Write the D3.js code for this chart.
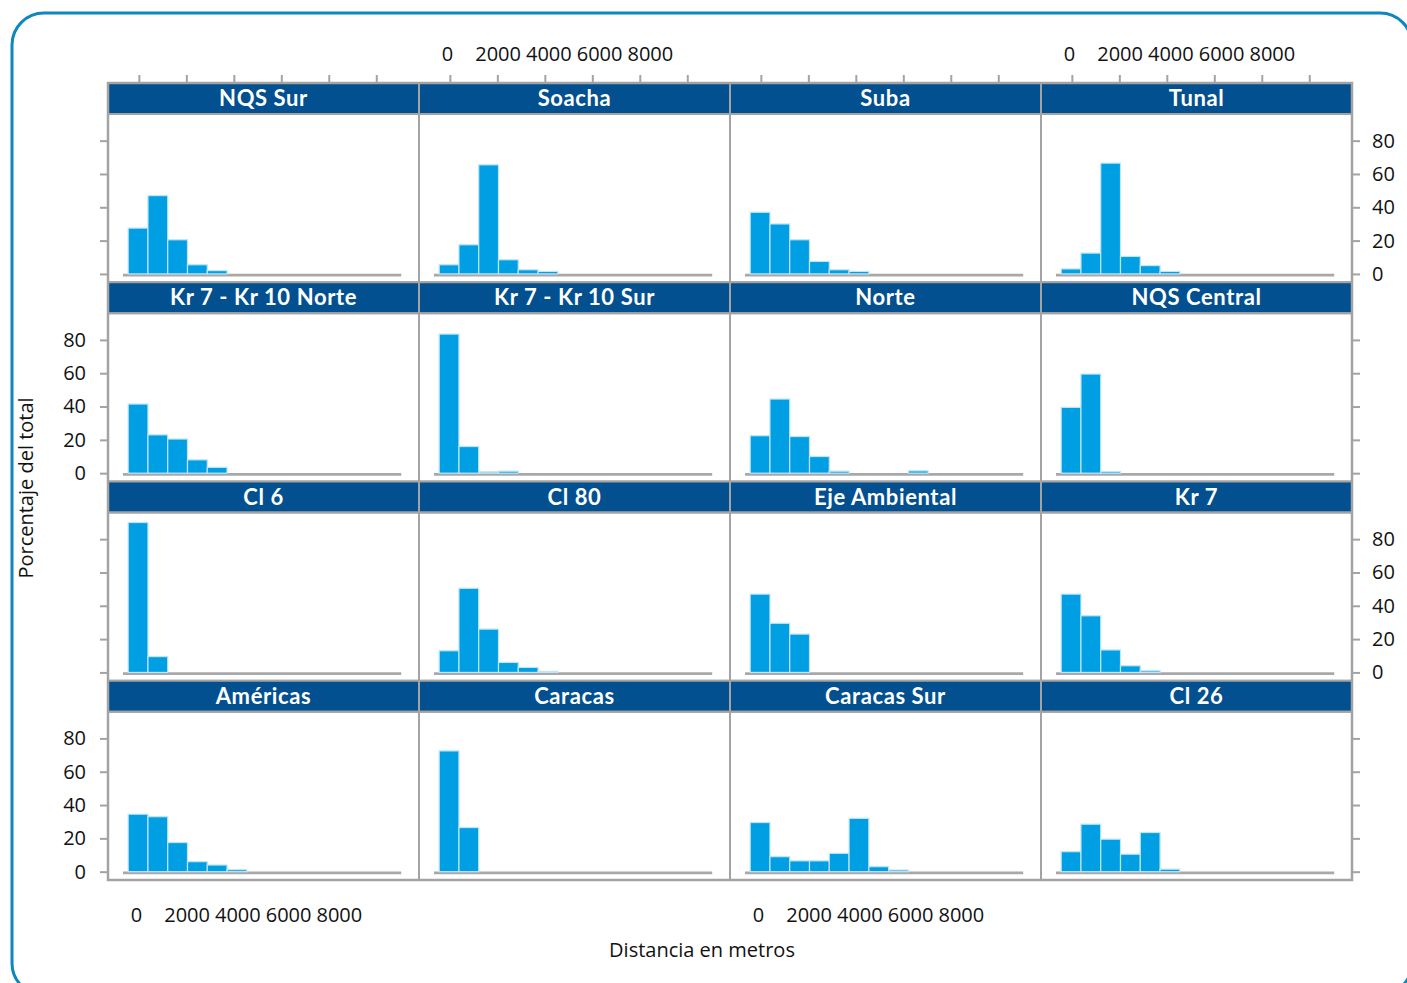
<!DOCTYPE html>
<html>
<head>
<meta charset="utf-8">
<script src="https://cdn.jsdelivr.net/npm/d3@7"></script>
<style>
  html, body { margin: 0; padding: 0; background: #ffffff; }
  svg { display: block; }
</style>
</head>
<body>
<svg id="chart" width="1407" height="983"></svg>
<script>
// Panel titles, in lattice order (left to right, top to bottom)
const categories = [
  "NQS Sur", "Soacha", "Suba", "Tunal",
  "Kr 7 - Kr 10 Norte", "Kr 7 - Kr 10 Sur", "Norte", "NQS Central",
  "Cl 6", "Cl 80", "Eje Ambiental", "Kr 7",
  "Américas", "Caracas", "Caracas Sur", "Cl 26"
];

// Percentage of trips in each distance bin, per corridor
const nqsSur        = [27.5, 47, 20.5, 5.5, 2];
const soacha        = [5.5, 17.5, 65.5, 8.5, 2.5, 1.5];
const suba          = [37, 30, 20.5, 7.5, 2.5, 1.5];
const tunal         = [3, 12.5, 66.5, 10.5, 5, 1.5];
const kr7Kr10Norte  = [41.5, 23, 20.5, 8, 3.5];
const kr7Kr10Sur    = [83.5, 16, 0.8, 1.2];
const norte         = [22.5, 44.5, 22, 10, 1.2, 0, 0, 0, 1.4];
const nqsCentral    = [39.5, 59.5, 1];
const cl6           = [90, 9.5];
const cl80          = [13, 50.5, 26, 6, 3, 0.6];
const ejeAmbiental  = [47, 29.5, 23];
const kr7           = [47, 34, 13.5, 4, 1];
const americas      = [34.5, 33, 17.5, 6, 4, 1.2];
const caracas       = [72.5, 26.5];
const caracasSur    = [29.5, 9, 6.5, 6.5, 11, 32, 3, 1];
const cl26          = [12, 28.5, 19.5, 10.5, 23.5, 1.5];

const series = [
  nqsSur, soacha, suba, tunal,
  kr7Kr10Norte, kr7Kr10Sur, norte, nqsCentral,
  cl6, cl80, ejeAmbiental, kr7,
  americas, caracas, caracasSur, cl26
];

// Histogram bins (metres)
const binStart = -450;
const binWidth = 833;
const histEnd = 11050;
const histStartLine = -670;

// Axis ticks
const xTicks = [0, 2000, 4000, 6000, 8000, 10000];
const xLabelValues = [0, 2000, 4000, 6000, 8000];
const xTickLabels = ["0", "2000", "4000", "6000", "8000"];
const yTicks = [0, 20, 40, 60, 80];
const yTickLabels = ["0", "20", "40", "60", "80"];

const xTitle = "Distancia en metros";
const yTitle = "Porcentaje del total";

// Layout
const nCols = 4, nRows = 4;
const gridLeft = 108, gridRight = 1352, gridTop = 83, gridBottom = 880;
const colW = (gridRight - gridLeft) / nCols;
const rowH = (gridBottom - gridTop) / nRows;
const stripH = 31;

const stripFill = "#02508f";
const barFill = "#009fe3";
const barStroke = "#bfe5f7";
const frameGray = "#a3a3a3";
const tickFont = "'Open Sans', 'Noto Sans', sans-serif";

const svg = d3.select("#chart");

// Rounded outer frame
svg.append("rect")
  .attr("x", 12).attr("y", 13)
  .attr("width", 1400).attr("height", 982)
  .attr("rx", 32).attr("ry", 32)
  .attr("fill", "none")
  .attr("stroke", "#0e86be")
  .attr("stroke-width", 3);

const gPanels = svg.append("g");

categories.forEach((name, k) => {
  const col = k % nCols, row = Math.floor(k / nCols);
  const px0 = gridLeft + col * colW, px1 = px0 + colW;
  const sy0 = gridTop + row * rowH;
  const py0 = sy0 + stripH, py1 = sy0 + rowH;

  const x = d3.scaleLinear().domain([-1300, 11800]).range([px0, px1]);
  const y = d3.scaleLinear().domain([-5, 96]).range([py1, py0]);
  // tick labels sit on a slightly wider spacing than the tick marks
  const xLab = d3.scaleLinear().domain([0, 8000]).range([x(0) - 3, x(0) + 200]);

  const g = gPanels.append("g");

  // panel background
  g.append("rect")
    .attr("x", px0).attr("y", py0)
    .attr("width", colW).attr("height", py1 - py0)
    .attr("fill", "#ffffff");

  // baseline made of the empty bins
  g.append("line")
    .attr("x1", x(histStartLine)).attr("x2", x(histEnd))
    .attr("y1", y(0) + 1.2).attr("y2", y(0) + 1.2)
    .attr("stroke", "#a8a8a8")
    .attr("stroke-width", 2.6);

  // bars
  g.selectAll("rect.bar")
    .data(series[k].map((v, i) => ({ v, i })).filter(d => d.v > 0))
    .join("rect")
    .attr("class", "bar")
    .attr("x", d => x(binStart + d.i * binWidth))
    .attr("width", d => x(binStart + (d.i + 1) * binWidth) - x(binStart + d.i * binWidth))
    .attr("y", d => y(d.v))
    .attr("height", d => y(0) - y(d.v))
    .attr("fill", barFill)
    .attr("stroke", barStroke)
    .attr("stroke-width", 1.2);

  // strip
  g.append("rect")
    .attr("x", px0).attr("y", sy0)
    .attr("width", colW).attr("height", stripH)
    .attr("fill", stripFill)
    .attr("stroke", frameGray)
    .attr("stroke-width", 2);

  g.append("text")
    .attr("x", (px0 + px1) / 2)
    .attr("y", sy0 + stripH / 2 + 7.5)
    .attr("text-anchor", "middle")
    .attr("fill", "#ffffff")
    .attr("font-family", "Lato, 'Noto Sans', sans-serif")
    .attr("font-weight", "bold")
    .attr("font-size", 22)
    .attr("letter-spacing", 0.6)
    .text(name);

  // panel border
  g.append("rect")
    .attr("x", px0).attr("y", py0)
    .attr("width", colW).attr("height", py1 - py0)
    .attr("fill", "none")
    .attr("stroke", frameGray)
    .attr("stroke-width", 2);

  // top axis (first row): ticks on every column, labels on even columns
  if (row === 0) {
    const ax = d3.axisTop(x).tickValues(xTicks).tickSize(8).tickFormat("");
    styleAxis(svg.append("g").attr("transform", `translate(0,${gridTop})`).call(ax));
    if (col % 2 === 1) {
      const lab = d3.axisTop(xLab).tickValues(xLabelValues).tickSize(0).tickPadding(22)
        .tickFormat((d, i) => xTickLabels[i]);
      styleAxis(svg.append("g").attr("transform", `translate(0,${gridTop})`).call(lab));
    }
  }
  // bottom axis labels (last row, odd columns)
  if (row === nRows - 1 && col % 2 === 0) {
    const lab = d3.axisBottom(xLab).tickValues(xLabelValues).tickSize(0).tickPadding(28)
      .tickFormat((d, i) => xTickLabels[i]);
    styleAxis(svg.append("g").attr("transform", `translate(0,${gridBottom})`).call(lab));
  }
  // left axis (first column): labels on even rows
  if (col === 0) {
    const ax = d3.axisLeft(y).tickValues(yTicks).tickSize(8).tickPadding(14)
      .tickFormat((d, i) => (row % 2 === 1 ? yTickLabels[i] : ""));
    styleAxis(svg.append("g").attr("transform", `translate(${gridLeft},0)`).call(ax));
  }
  // right axis (last column): labels on odd rows
  if (col === nCols - 1) {
    const ax = d3.axisRight(y).tickValues(yTicks).tickSize(8).tickPadding(12)
      .tickFormat((d, i) => (row % 2 === 0 ? yTickLabels[i] : ""));
    styleAxis(svg.append("g").attr("transform", `translate(${gridRight},0)`).call(ax));
  }
});

function styleAxis(ga) {
  ga.select(".domain").remove();
  ga.selectAll(".tick line").attr("stroke", frameGray).attr("stroke-width", 2);
  ga.selectAll(".tick text")
    .attr("fill", "#111111")
    .attr("font-family", tickFont)
    .attr("font-size", 20);
}

// outer grid frame
svg.append("rect")
  .attr("x", gridLeft).attr("y", gridTop)
  .attr("width", gridRight - gridLeft).attr("height", gridBottom - gridTop)
  .attr("fill", "none")
  .attr("stroke", frameGray)
  .attr("stroke-width", 2.5);

// axis titles
svg.append("text")
  .attr("x", 702).attr("y", 957)
  .attr("text-anchor", "middle")
  .attr("font-family", tickFont)
  .attr("font-size", 20)
  .attr("fill", "#111111")
  .text(xTitle);

svg.append("text")
  .attr("transform", "translate(33,488) rotate(-90)")
  .attr("text-anchor", "middle")
  .attr("font-family", tickFont)
  .attr("font-size", 20)
  .attr("fill", "#111111")
  .text(yTitle);
</script>
</body>
</html>
